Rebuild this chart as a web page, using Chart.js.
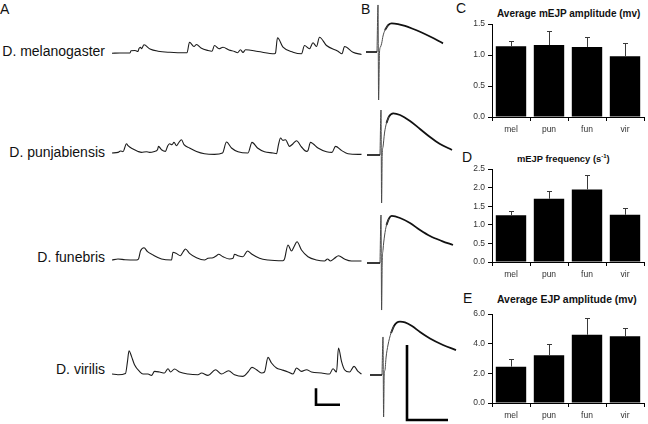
<!DOCTYPE html>
<html><head><meta charset="utf-8">
<script src="https://cdn.jsdelivr.net/npm/chart.js@4.4.1/dist/chart.umd.min.js"></script>
<style>
html,body{margin:0;padding:0;width:648px;height:424px;overflow:hidden;background:#fff;}
canvas{position:absolute;}
.lbl{position:absolute;font-family:'Liberation Sans',Arial,sans-serif;color:#111;white-space:nowrap;font-size:14px;line-height:14px;}
.sp{text-align:right;left:0;width:105px;}
.ttl{position:absolute;font-family:'Liberation Sans',Arial,sans-serif;font-weight:bold;font-size:10px;line-height:12px;color:#111;white-space:nowrap;text-align:left;}
.ttl sup{font-size:6px;line-height:0;vertical-align:4px;}
</style></head><body>
<div class="lbl" style="left:0;top:2px">A</div>
<div class="lbl" style="left:361px;top:2px">B</div>
<div class="lbl" style="left:456px;top:1px">C</div>
<div class="lbl" style="left:462px;top:150px">D</div>
<div class="lbl" style="left:463px;top:291px">E</div>
<div class="lbl sp" style="top:44px">D. melanogaster</div>
<div class="lbl sp" style="top:145px">D. punjabiensis</div>
<div class="lbl sp" style="top:250px">D. funebris</div>
<div class="lbl sp" style="top:362px">D. virilis</div>
<div class="ttl" style="left:497px;top:8px">Average mEJP amplitude (mv)</div>
<div class="ttl" style="left:517px;top:153px;font-size:9.4px">mEJP frequency (s<sup>-1</sup>)</div>
<div class="ttl" style="left:497px;top:294px;font-size:10.4px">Average EJP amplitude (mv)</div>
<script>
// ---- Data ----
const categories = ['mel', 'pun', 'fun', 'vir'];
const mejpAmplitude = [1.14, 1.16, 1.13, 0.98];
const mejpAmplitudeErr = [0.09, 0.22, 0.16, 0.22];
const mejpFrequency = [1.26, 1.70, 1.95, 1.27];
const mejpFrequencyErr = [0.12, 0.22, 0.39, 0.17];
const ejpAmplitude = [2.45, 3.22, 4.6, 4.5];
const ejpAmplitudeErr = [0.55, 0.75, 1.1, 0.55];
const ampTicks = [0, 0.5, 1.0, 1.5];
const freqTicks = [0, 0.5, 1.0, 1.5, 2.0, 2.5];
const ejpTicks = [0, 2, 4, 6];

// Panel A spontaneous recordings: [time (s), membrane potential (mV, rel. baseline)]
const melTrace = [[0,-0.02],[0.16,0],[0.36,0],[0.38,0.22],[0.46,0.25],[0.52,0.15],[0.54,0.45],[0.57,0.58],[0.59,0.42],[0.64,0.82],[0.76,0.4],[0.92,0.18],[1.16,0.07],[1.46,0.02],[1.5,0.02],[1.55,1.08],[1.64,0.65],[1.69,0.85],[1.78,0.5],[1.92,0.25],[2.0,0.18],[2.05,0.75],[2.14,0.42],[2.22,0.58],[2.34,0.3],[2.45,0.15],[2.51,0.02],[2.57,0.32],[2.62,0.05],[2.67,0.32],[2.92,0.15],[3.25,-0.08],[3.27,0],[3.31,1.52],[3.42,0.58],[3.62,0.08],[3.79,-0.08],[3.85,0.75],[3.95,0.42],[4.02,1.02],[4.09,0.65],[4.15,1.58],[4.29,0.75],[4.52,0.18],[4.6,-0.08],[4.65,0.65],[4.82,0.08],[4.99,-0.15]];
const punTrace = [[0,0],[0.12,0.06],[0.17,0.2],[0.22,0.13],[0.29,0.93],[0.32,0.73],[0.42,0.4],[0.52,0.16],[0.59,0.06],[0.69,0.13],[0.75,0.06],[0.85,0.16],[0.91,0.33],[0.93,0.66],[0.99,0.33],[1.07,0.16],[1.11,0.66],[1.15,0.93],[1.2,0.83],[1.24,1.06],[1.29,0.73],[1.33,1.0],[1.39,1.33],[1.44,0.83],[1.55,0.5],[1.69,0.16],[1.85,-0.07],[2.05,-0.14],[2.21,0],[2.29,1.1],[2.39,0.5],[2.52,0.13],[2.72,0],[2.8,1.06],[2.91,0.5],[3.05,0.13],[3.22,0],[3.29,-0.07],[3.33,0.83],[3.37,1.5],[3.42,1.26],[3.47,1.33],[3.55,0.66],[3.62,0.93],[3.69,1.23],[3.79,0.6],[3.89,0.16],[3.92,0.26],[3.97,1.06],[4.02,0.93],[4.12,0.5],[4.29,0.13],[4.4,0.06],[4.47,0.66],[4.59,0.26],[4.72,-0.07],[4.99,-0.14]];
const funTrace = [[0,0],[0.12,0.1],[0.26,0.03],[0.49,0],[0.53,0.1],[0.57,0.9],[0.64,1.23],[0.71,0.83],[0.82,0.5],[0.99,0.1],[1.19,0],[1.22,0.77],[1.28,0.67],[1.37,0.43],[1.42,0.8],[1.47,1.1],[1.55,0.67],[1.69,0.23],[1.85,0],[1.92,0.17],[2.02,0.23],[2.09,0.43],[2.13,0.57],[2.22,0.33],[2.35,0.1],[2.42,0.17],[2.45,0.57],[2.52,0.43],[2.62,0.33],[2.71,0.9],[2.8,0.57],[2.95,0.17],[3.12,0],[3.42,-0.07],[3.45,0.1],[3.52,1.5],[3.59,0.9],[3.64,1.33],[3.7,1.83],[3.79,1.0],[3.92,0.33],[4.09,0],[4.25,-0.1],[4.31,0.1],[4.37,-0.1],[4.45,0.17],[4.53,0.43],[4.65,0.1],[4.79,-0.1],[4.99,-0.1]];
const virTrace = [[0,0],[0.12,-0.07],[0.27,0.06],[0.31,1.26],[0.34,2.33],[0.39,1.76],[0.45,0.93],[0.55,0.26],[0.62,0],[0.72,0],[0.79,-0.14],[0.85,0.26],[0.95,0.2],[1.05,0.1],[1.12,0.53],[1.17,0.2],[1.25,0.5],[1.35,0.2],[1.52,0],[1.72,-0.07],[1.79,0.1],[1.92,-0.14],[2.07,0.43],[2.19,0],[2.33,0.33],[2.45,-0.07],[2.62,-0.24],[2.72,0.2],[2.8,0.66],[2.89,0.43],[2.99,0.1],[3.05,0.2],[3.12,1.66],[3.19,1.1],[3.29,0.6],[3.39,0.43],[3.52,0.2],[3.62,0],[3.69,0.6],[3.79,0.26],[3.89,0.43],[3.99,0.2],[4.19,0.1],[4.35,0],[4.42,0.53],[4.49,0.2],[4.53,2.6],[4.59,1.26],[4.65,0.43],[4.75,0.2],[4.84,0.76],[4.92,0.26],[4.99,0]];
const scaleBarA = [[4.08,-1.42],[4.08,-3.07],[4.56,-3.07]];

// Panel B evoked EJPs: [time (ms), mV rel. baseline]
// baseline before stimulus, stimulus artifact + EJP rising phase (thin), EJP decay (thick)
const melStub = [[3,0],[8.5,0]];
const melRise = [[8.5,0],[9,3.92],[9.3,-4.0],[9.75,0],[10.25,0.42],[10.85,0.73],[11.5,1.33],[12.5,1.83],[14.15,2.25]];
const melDecay = [[12.5,1.83],[14.15,2.25],[15.85,2.39],[19,2.33],[22.5,2.17],[26,1.96],[30,1.69],[35,1.29],[41.5,0.72]];
const punStub = [[3.5,0],[10,0]];
const punRise = [[10,0],[10.5,3.75],[10.8,-4.0],[11.1,0],[11.5,0.67],[12.25,1.83],[13.25,2.67],[14.5,3.21]];
const punDecay = [[13.25,2.67],[14.5,3.21],[16.65,3.47],[20,3.33],[25,2.83],[30,2.17],[35,1.5],[40,0.92],[46,0.42]];
const funStub = [[3.5,0],[10,0]];
const funRise = [[10,0],[10.5,4.0],[10.8,-3.92],[11.1,0],[11.5,1.08],[12.25,2.25],[13.25,3.17],[14.5,3.71]];
const funDecay = [[13.25,3.17],[14.5,3.71],[15.85,3.92],[20,3.75],[25,3.33],[30,2.75],[35,2.25],[41,1.83],[46.5,1.5]];
const virStub = [[5,0],[11,0]];
const virRise = [[11,0],[11.5,3.17],[11.8,-3.5],[12.1,0],[12.5,0.42],[13,1.42],[14,2.5],[15.5,3.5],[17,4.08]];
const virDecay = [[15.5,3.5],[17,4.08],[18.5,4.38],[20,4.44],[22.5,4.38],[26,4.08],[30,3.58],[35,3.04],[41.5,2.5],[48,2.08]];
const scaleBarB = [[23.5,2.5],[23.5,-3.75],[44,-3.75]];

// ---- Helpers ----
function makeCanvas(left, top, w, h) {
  const c = document.createElement('canvas');
  c.width = w; c.height = h;
  c.style.left = left + 'px'; c.style.top = top + 'px';
  c.style.width = w + 'px'; c.style.height = h + 'px';
  document.body.appendChild(c);
  return c;
}
const toXY = pts => pts.map(p => ({x: p[0], y: p[1]}));
function line(pts, width, color, smooth) {
  return {data: toXY(pts), showLine: true, borderColor: color, borderWidth: width, pointRadius: 0,
    cubicInterpolationMode: smooth ? 'monotone' : 'default', tension: 0, clip: false,
    borderJoinStyle: smooth ? 'round' : 'miter', borderCapStyle: 'butt'};
}
function traceChart(canvas, datasets, xr, yr) {
  return new Chart(canvas, {type: 'scatter', data: {datasets},
    options: {responsive: false, animation: false, events: [], devicePixelRatio: 1,
      layout: {padding: 0},
      plugins: {legend: {display: false}, tooltip: {enabled: false}, title: {display: false}},
      scales: {x: {type: 'linear', display: false, min: xr[0], max: xr[1]},
               y: {type: 'linear', display: false, min: yr[0], max: yr[1]}}}});
}

// Panel A
const TA = '#1c1c1c';
traceChart(makeCanvas(112, 33, 250, 30), [line(melTrace, 1.1, TA, true)], [0, 5], [-1, 2]);
traceChart(makeCanvas(112, 133, 250, 30), [line(punTrace, 1.1, TA, true)], [0, 5], [-1, 2]);
traceChart(makeCanvas(112, 240, 250, 30), [line(funTrace, 1.1, TA, true)], [0, 5], [-1, 2]);
traceChart(makeCanvas(112, 344, 250, 70), [line(virTrace, 1.1, TA, true), line(scaleBarA, 2.6, '#000', false)], [0, 5], [-4, 3]);

// Panel B
const ART = '#4a4a4a';
const EJ = '#111';
function ejp(stub, rise, decay) {
  return [line(stub, 1.8, '#222', false), line(rise, 1, ART, true), line(decay, 1.8, EJ, true)];
}
traceChart(makeCanvas(360, 4, 100, 108), ejp(melStub, melRise, melDecay), [0, 50], [-5, 4]);
traceChart(makeCanvas(360, 107, 100, 108), ejp(punStub, punRise, punDecay), [0, 50], [-5, 4]);
traceChart(makeCanvas(360, 215, 100, 108), ejp(funStub, funRise, funDecay), [0, 50], [-5, 4]);
traceChart(makeCanvas(360, 315, 100, 108), ejp(virStub, virRise, virDecay).concat([line(scaleBarB, 2.6, '#000', false)]), [0, 50], [-4, 5]);

// Bar charts
const errorBars = {
  id: 'errorBars',
  afterDatasetsDraw(chart, args, opts) {
    const ctx = chart.ctx, y = chart.scales.y;
    const meta = chart.getDatasetMeta(0);
    const vals = chart.data.datasets[0].data;
    ctx.save();
    ctx.strokeStyle = '#3a3a3a'; ctx.lineWidth = 1;
    meta.data.forEach((bar, i) => {
      const x = Math.round(bar.x) + 0.5;
      const y0 = y.getPixelForValue(vals[i]);
      const y1 = Math.round(y.getPixelForValue(vals[i] + opts.errors[i])) + 0.5;
      ctx.beginPath();
      ctx.moveTo(x, y0); ctx.lineTo(x, y1);
      ctx.moveTo(x - 2.5, y1); ctx.lineTo(x + 2.5, y1);
      ctx.stroke();
    });
    ctx.restore();
  }
};
const tickFont = {family: "'Liberation Sans', Arial, sans-serif", size: 8.5};
function barChart(canvas, values, errors, ticks, padTop, xH) {
  return new Chart(canvas, {type: 'bar',
    data: {labels: categories, datasets: [{data: values, backgroundColor: '#000', borderWidth: 0, barPercentage: 0.8, categoryPercentage: 1}]},
    options: {responsive: false, animation: false, events: [], devicePixelRatio: 1,
      layout: {padding: {top: padTop, right: 4, left: 0, bottom: 0}},
      plugins: {legend: {display: false}, tooltip: {enabled: false}, errorBars: {errors}},
      scales: {
        x: {grid: {display: true, drawOnChartArea: false, drawTicks: true, tickLength: 4, color: '#000', lineWidth: 1},
            border: {display: true, color: '#000', width: 1},
            ticks: {color: '#333', font: tickFont, padding: 4, maxRotation: 0},
            afterFit: s => { s.height = xH; }},
        y: {min: ticks[0], max: ticks[ticks.length - 1],
            afterBuildTicks: s => { s.ticks = ticks.map(v => ({value: v})); },
            grid: {display: true, drawOnChartArea: false, drawTicks: true, tickLength: 4, color: '#000', lineWidth: 1},
            border: {display: true, color: '#000', width: 1},
            ticks: {color: '#333', font: tickFont, padding: 3, callback: v => Number(v).toFixed(1)},
            afterFit: s => { s.width = 52; }}
      }},
    plugins: [errorBars]});
}
barChart(makeCanvas(440, 14, 208, 130), mejpAmplitude, mejpAmplitudeErr, ampTicks, 10, 27);
barChart(makeCanvas(440, 155, 208, 134), mejpFrequency, mejpFrequencyErr, freqTicks, 14, 27);
barChart(makeCanvas(440, 300, 208, 124), ejpAmplitude, ejpAmplitudeErr, ejpTicks, 14, 21);
</script>
</body></html>
